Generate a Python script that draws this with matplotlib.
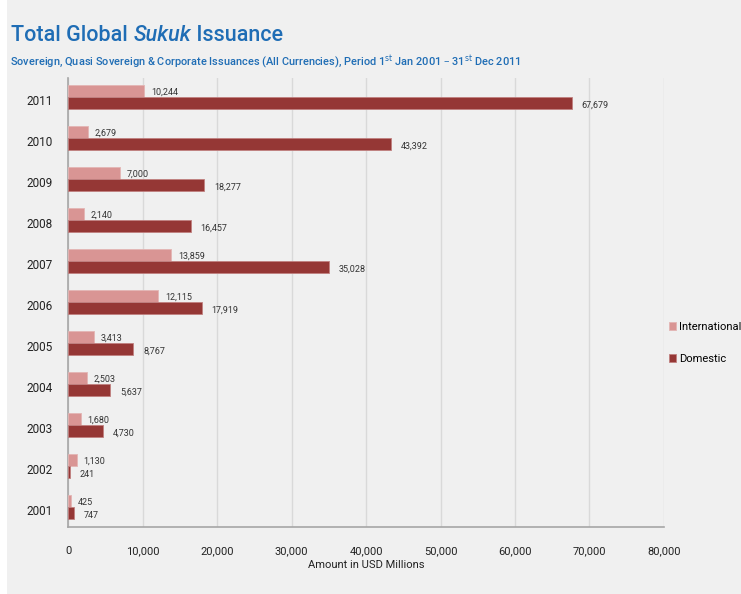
import matplotlib.pyplot as plt
from matplotlib.patches import Rectangle
import numpy as np

years = ["2001", "2002", "2003", "2004", "2005", "2006", "2007", "2008", "2009", "2010", "2011"]
international = [425, 1130, 1680, 2503, 3413, 12115, 13859, 2140, 7000, 2679, 10244]
domestic = [747, 241, 4730, 5637, 8767, 17919, 35028, 16457, 18277, 43392, 67679]
xticks = [0, 10000, 20000, 30000, 40000, 50000, 60000, 70000, 80000]

plt.rcParams['font.family'] = ['Roboto', 'DejaVu Sans']
blue = '#1f6db5'

fig = plt.figure(figsize=(7.41, 5.94), dpi=100)
fig.patch.set_facecolor('white')
fig.patches.append(Rectangle((0.009, 0.0), 0.991, 1.0, transform=fig.transFigure,
                             facecolor='#f0f0f0', edgecolor='none', zorder=-10))

ax = fig.add_axes([0.092, 0.113, 0.804, 0.756])
ax.set_facecolor('#f0f0f0')

y = np.arange(len(years))
h = 0.29
off = 0.07
ax.barh(y + h / 2 + off, international, height=h, color='#d99594',
        edgecolor='#e3b5b4', linewidth=0.6, label='International', zorder=3)
ax.barh(y - h / 2 + off, domestic, height=h, color='#953735',
        edgecolor='#c08080', linewidth=0.6, label='Domestic', zorder=3)

# value labels
for i in range(len(years)):
    ax.text(international[i] + 900, y[i] + h / 2 + off - 0.03, f"{international[i]:,}",
            fontsize=6.5, color='#333333', va='center', ha='left', zorder=4)
    ax.text(domestic[i] + 1300, y[i] - h / 2 + off - 0.06, f"{domestic[i]:,}",
            fontsize=6.5, color='#333333', va='center', ha='left', zorder=4)

ax.set_xlim(0, 80000)
ax.set_ylim(-0.41, len(years) - 0.46)
ax.set_xticks(xticks)
ax.set_xticklabels([f"{v:,}" for v in xticks], fontsize=8, color='#222222')
ax.set_yticks(y)
ax.set_yticklabels(years, fontsize=8.5, color='#222222')
ax.tick_params(axis='both', length=0)
ax.tick_params(axis='x', pad=14)
ax.tick_params(axis='y', pad=11)
ax.grid(axis='x', color='#d9d9d9', linewidth=1, zorder=0)
ax.set_axisbelow(True)
for s in ['top', 'right']:
    ax.spines[s].set_visible(False)
ax.spines['left'].set_color('#a6a6a6')
ax.spines['bottom'].set_color('#a6a6a6')
ax.spines['left'].set_linewidth(1.2)
ax.spines['bottom'].set_linewidth(1.2)

ax.set_xlabel("Amount in USD Millions", fontsize=8, color='#222222', labelpad=3)

ax.legend(loc='center left', bbox_to_anchor=(0.998, 0.41), frameon=False,
          fontsize=8, handlelength=0.6, handleheight=0.8, handletextpad=0.25,
          labelspacing=1.95, borderaxespad=0.2)

# title in three pieces so that "Sukuk" is italic
renderer = fig.canvas.get_renderer()
x0 = 0.015
for part, style in [("Total Global ", 'normal'), ("Sukuk", 'italic'), (" Issuance", 'normal')]:
    t = fig.text(x0, 0.941, part, fontsize=15.5, color=blue, ha='left', va='center',
                 style=style, fontweight='medium')
    bb = t.get_window_extent(renderer)
    x0 = bb.x1 / fig.bbox.width

fig.text(0.014, 0.896,
         r"Sovereign, Quasi Sovereign & Corporate Issuances (All Currencies), Period 1$^{\mathrm{st}}$ Jan 2001 – 31$^{\mathrm{st}}$ Dec 2011",
         fontsize=7.9, color=blue, ha='left', va='center', fontweight='medium')

fig.savefig("out.png", dpi=100, facecolor=fig.get_facecolor())
